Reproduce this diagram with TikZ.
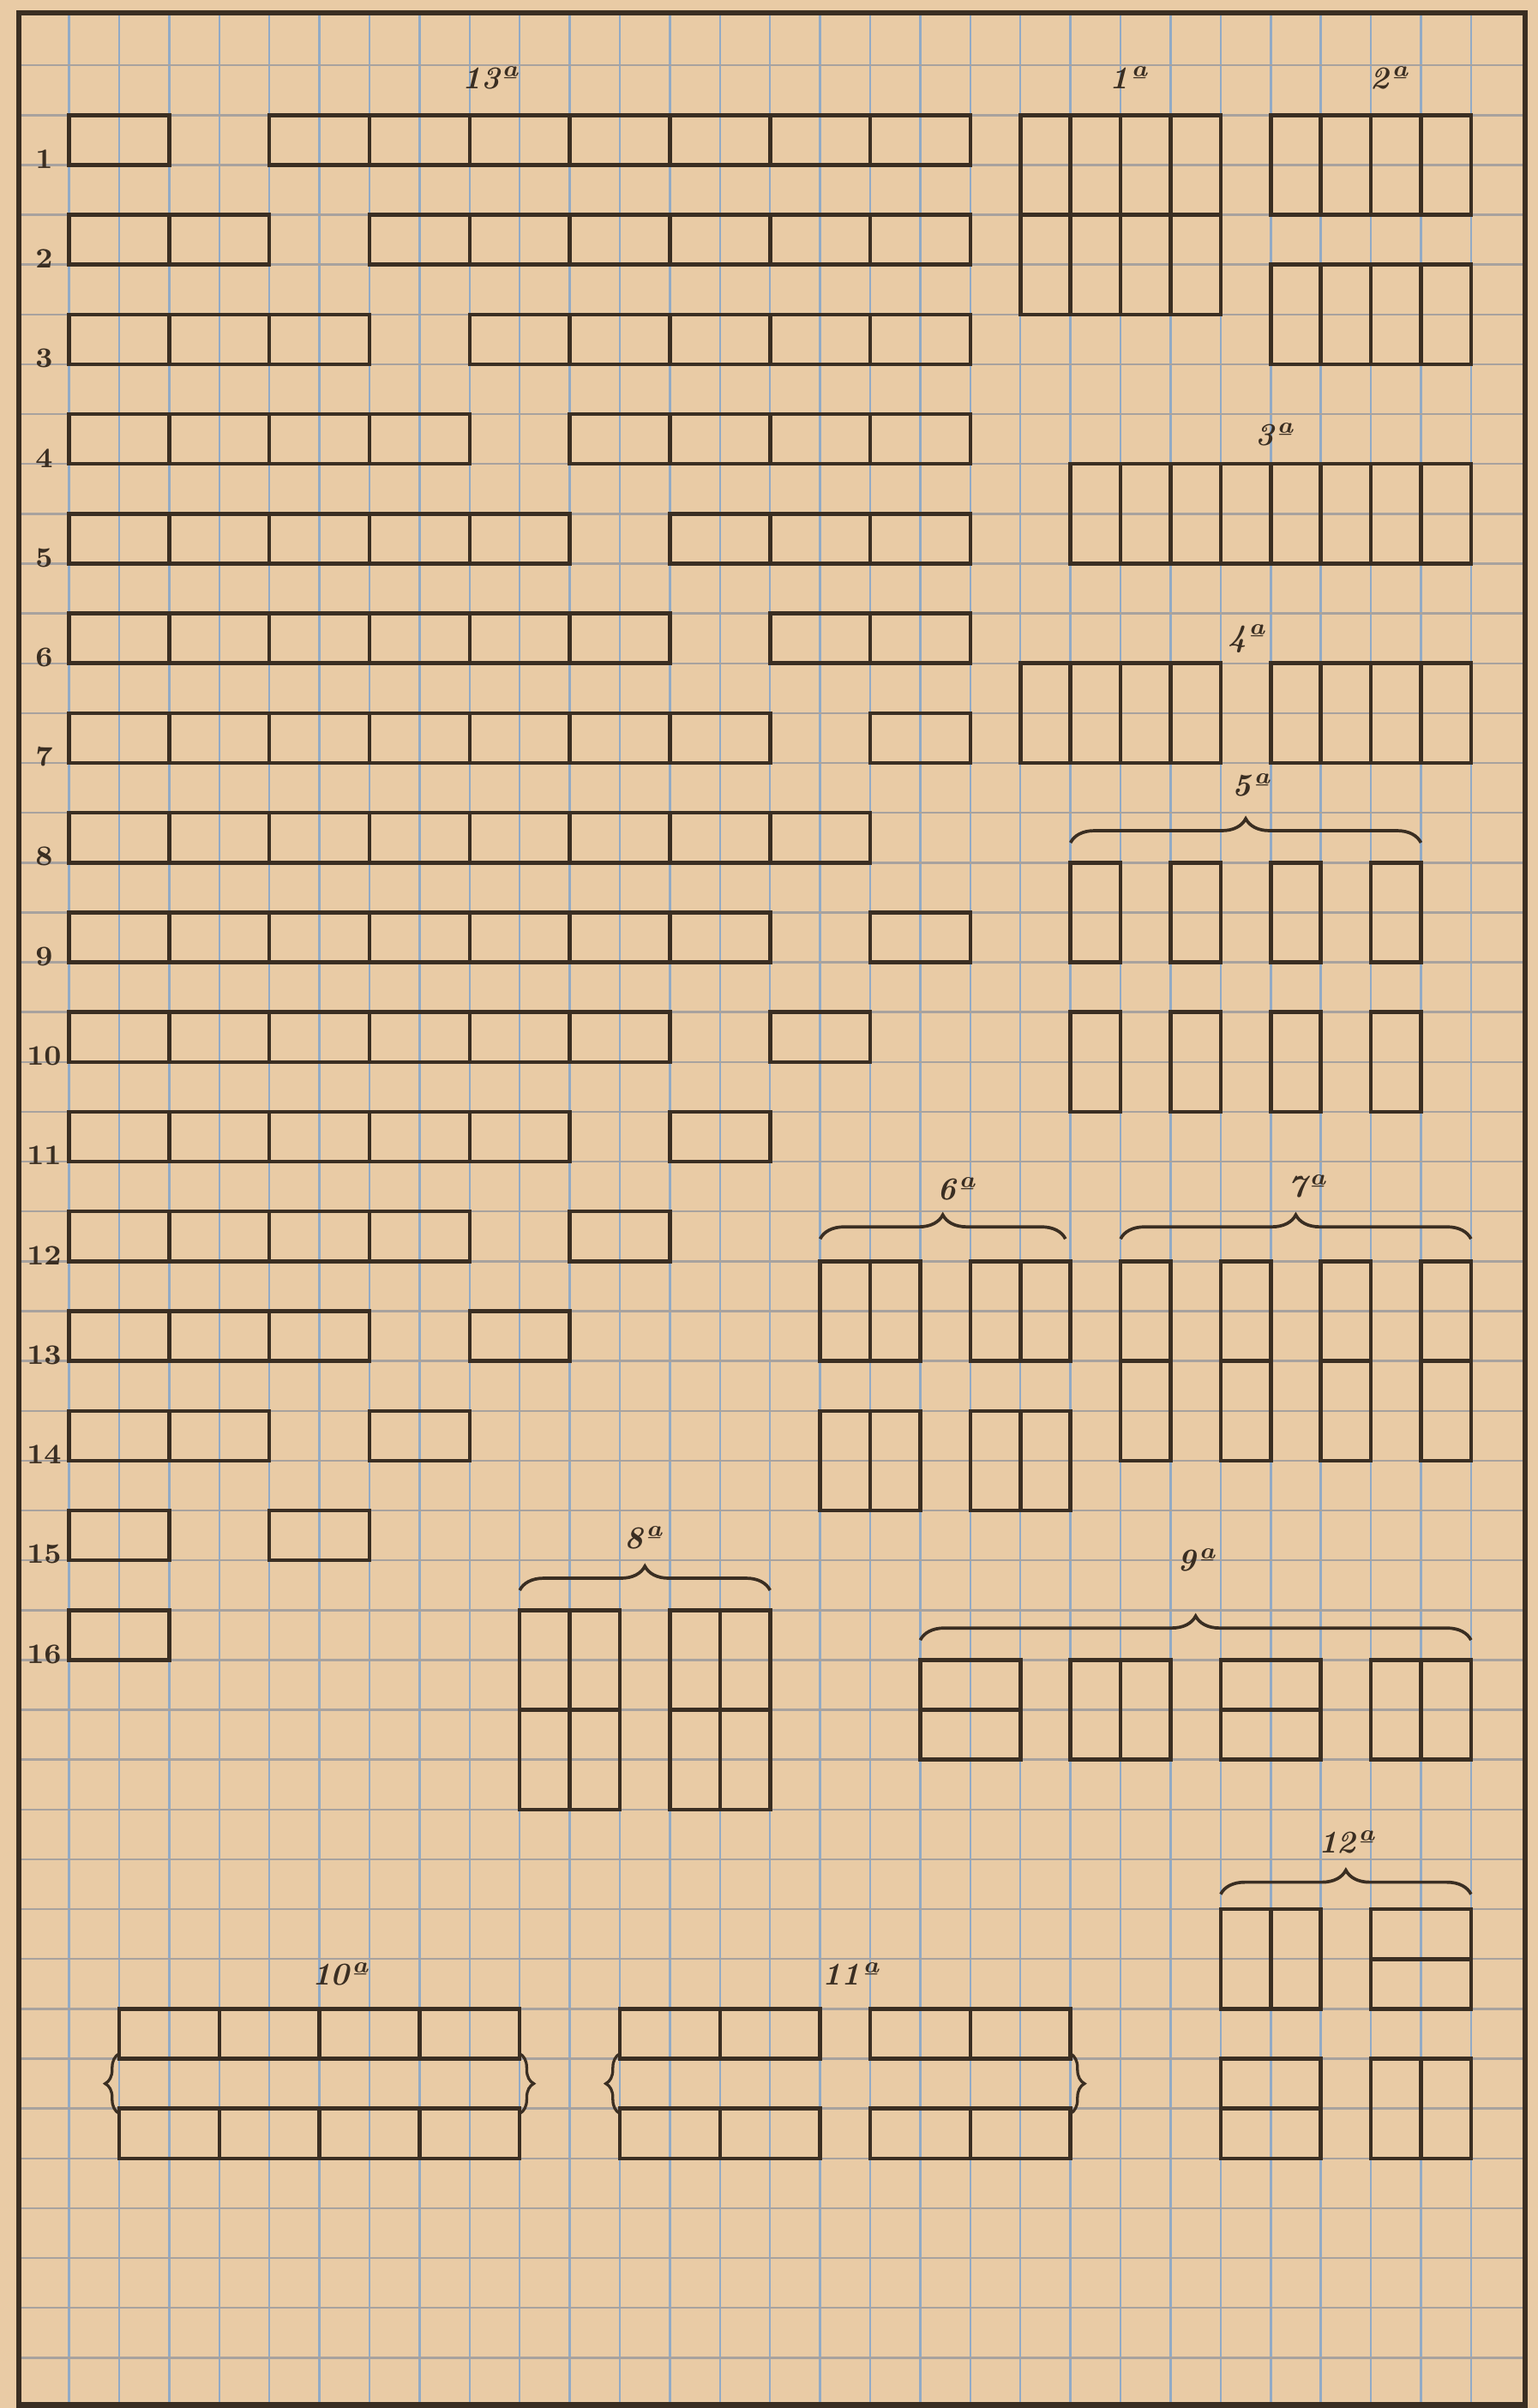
\documentclass[tikz,border=0pt]{standalone}
\usepackage{tikz}
\usetikzlibrary{decorations.pathreplacing}
\definecolor{paper}{RGB}{233,203,165}
\definecolor{gridblue}{RGB}{145,170,198}
\definecolor{gridtan}{RGB}{168,162,158}
\definecolor{ink}{RGB}{58,46,34}
\newcommand{\ordn}[1]{#1ª}
\tikzset{
  gridv/.style={draw=gridblue, line width=0.6pt},
  gridh/.style={draw=gridtan, line width=0.6pt},
  sheetframe/.style={draw=ink, line width=1.6pt},
  brick/.style={draw=ink, line width=1.1pt},
  groupbrace/.style={draw=ink, line width=0.9pt, decorate,
    decoration={brace, amplitude=0.24cm}},
  sidebrace/.style={draw=ink, line width=0.8pt, decorate,
    decoration={brace, amplitude=0.14cm}},
  rowlbl/.style={font=\footnotesize\bfseries, text=ink, inner sep=0pt},
  grplbl/.style={font=\small\bfseries\itshape, text=ink, inner sep=0pt},
}
\begin{document}
\begin{tikzpicture}[x=0.5cm, y=-0.4977cm]
  \path[use as bounding box, fill=paper] (-1.38,-2.31) rectangle (29.33,46.01);

  % Squared paper
  \foreach \k in {0,...,28} \draw[gridv] (\k,-2.05) -- (\k,45.95);
  \foreach \j in {-1,...,45} \draw[gridh] (-1,\j) -- (29.08,\j);
  \draw[sheetframe] (-1,-2.05) rectangle (29.08,45.95);

  % 13a: sixteen courses
  \foreach \r/\xs in {1/{0,4,6,8,10,12,14,16}, 2/{0,2,6,8,10,12,14,16},
      3/{0,2,4,8,10,12,14,16}, 4/{0,2,4,6,10,12,14,16},
      5/{0,2,4,6,8,12,14,16}, 6/{0,2,4,6,8,10,14,16},
      7/{0,2,4,6,8,10,12,16}, 8/{0,2,4,6,8,10,12,14},
      9/{0,2,4,6,8,10,12,16}, 10/{0,2,4,6,8,10,14},
      11/{0,2,4,6,8,12}, 12/{0,2,4,6,10}, 13/{0,2,4,8},
      14/{0,2,6}, 15/{0,4}, 16/{0}}
    \foreach \x in \xs
      \draw[brick] (\x,2*\r-2) rectangle ++(2,1);
  \foreach \r in {1,...,16}
    \node[rowlbl] (row\r) at (-0.5,2*\r-1.12) {\r};
  \node[grplbl] (lbl13) at (8.4,-0.75) {\ordn{13}};

  % 1a and 2a
  \foreach \x in {19,...,22} \foreach \y in {0,2}
    \draw[brick] (\x,\y) rectangle ++(1,2);
  \foreach \x in {24,...,27} \foreach \y in {0,3}
    \draw[brick] (\x,\y) rectangle ++(1,2);
  \node[grplbl] (lbl1) at (21.15,-0.75) {\ordn{1}};
  \node[grplbl] (lbl2) at (26.35,-0.75) {\ordn{2}};

  % 3a and 4a
  \foreach \x in {20,...,27}
    \draw[brick] (\x,7) rectangle ++(1,2);
  \foreach \x in {19,20,21,22,24,25,26,27}
    \draw[brick] (\x,11) rectangle ++(1,2);
  \node[grplbl] (lbl3) at (24.05,6.4) {\ordn{3}};
  \node[grplbl] (lbl4) at (23.5,10.5) {\ordn{4}};

  % 5a
  \foreach \x in {20,22,24,26} \foreach \y in {15,18}
    \draw[brick] (\x,\y) rectangle ++(1,2);
  \draw[groupbrace] (20,14.6) -- (27,14.6);
  \node[grplbl] (lbl5) at (23.6,13.45) {\ordn{5}};

  % 6a and 7a
  \foreach \x in {15,16,18,19} \foreach \y in {23,26}
    \draw[brick] (\x,\y) rectangle ++(1,2);
  \draw[groupbrace] (15,22.55) -- (19.9,22.55);
  \node[grplbl] (lbl6) at (17.7,21.55) {\ordn{6}};
  \foreach \x in {21,23,25,27} \foreach \y in {23,25}
    \draw[brick] (\x,\y) rectangle ++(1,2);
  \draw[groupbrace] (21,22.55) -- (28,22.55);
  \node[grplbl] (lbl7) at (24.7,21.5) {\ordn{7}};

  % 8a
  \foreach \x in {9,10,12,13} \foreach \y in {30,32}
    \draw[brick] (\x,\y) rectangle ++(1,2);
  \draw[groupbrace] (9,29.6) -- (14,29.6);
  \node[grplbl] (lbl8) at (11.45,28.55) {\ordn{8}};

  % 9a
  \foreach \x in {17,23} \foreach \y in {31,32}
    \draw[brick] (\x,\y) rectangle ++(2,1);
  \foreach \x in {20,21,26,27}
    \draw[brick] (\x,31) rectangle ++(1,2);
  \draw[groupbrace] (17,30.6) -- (28,30.6);
  \node[grplbl] (lbl9) at (22.5,29.0) {\ordn{9}};

  % 12a
  \foreach \x/\y in {23/36,24/36,26/39,27/39}
    \draw[brick] (\x,\y) rectangle ++(1,2);
  \foreach \x/\y in {26/36,26/37,23/39,23/40}
    \draw[brick] (\x,\y) rectangle ++(2,1);
  \draw[groupbrace] (23,35.7) -- (28,35.7);
  \node[grplbl] (lbl12) at (25.5,34.65) {\ordn{12}};

  % 10a and 11a
  \foreach \x in {1,3,5,7} \foreach \y in {38,40}
    \draw[brick] (\x,\y) rectangle ++(2,1);
  \draw[sidebrace] (1,40.1) -- (1,38.9);
  \draw[sidebrace] (9,38.9) -- (9,40.1);
  \node[grplbl] (lbl10) at (5.4,37.3) {\ordn{10}};
  \foreach \x in {11,13,16,18} \foreach \y in {38,40}
    \draw[brick] (\x,\y) rectangle ++(2,1);
  \draw[sidebrace] (11,40.1) -- (11,38.9);
  \draw[sidebrace] (20,38.9) -- (20,40.1);
  \node[grplbl] (lbl11) at (15.6,37.3) {\ordn{11}};
\end{tikzpicture}
\end{document}
